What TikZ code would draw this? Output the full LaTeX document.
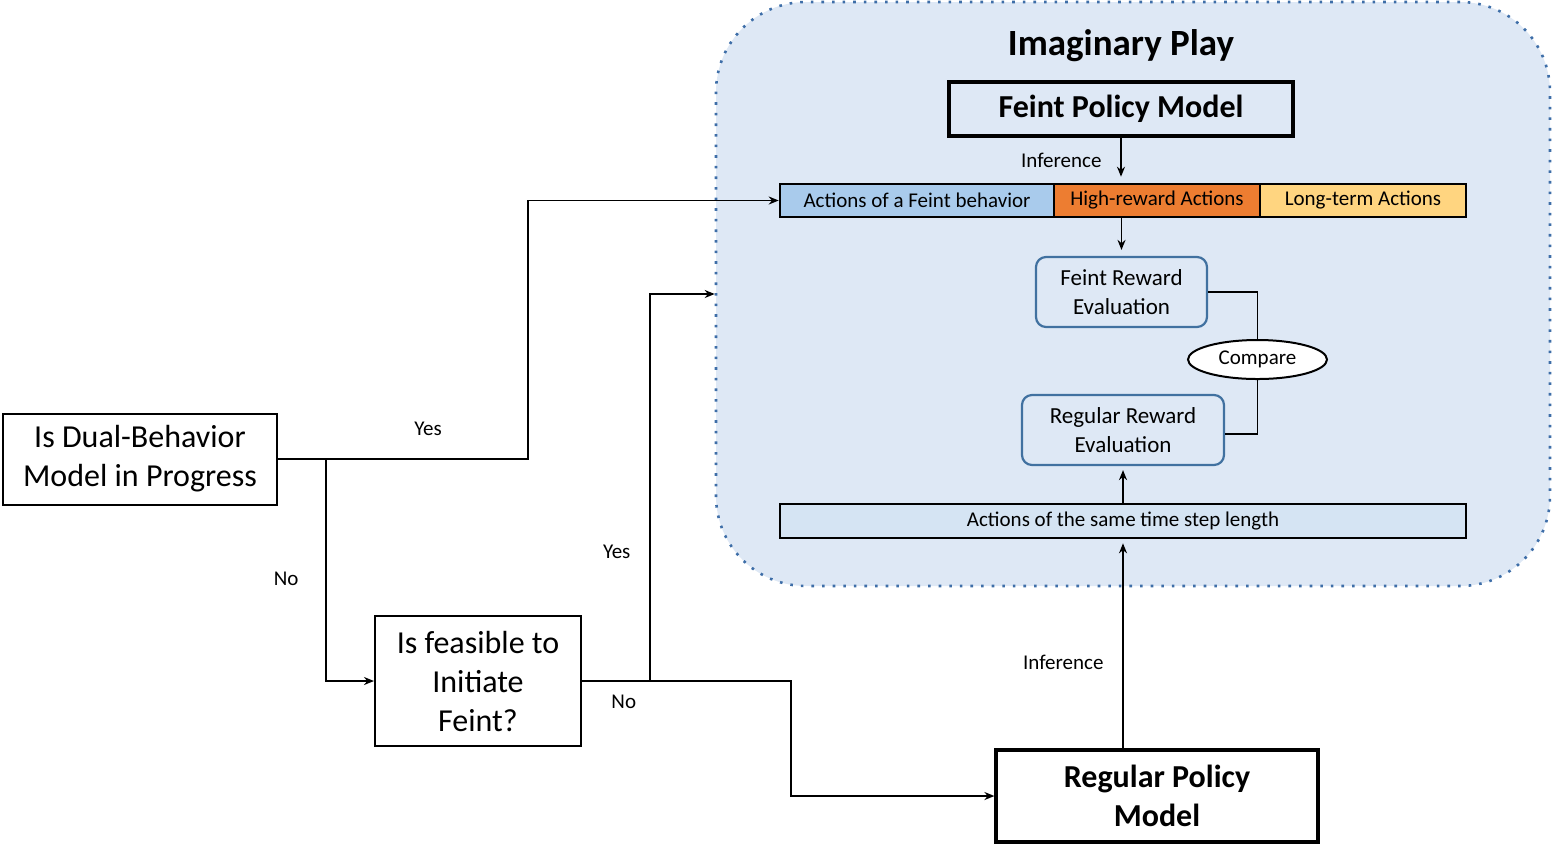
\documentclass[tikz,border=0pt]{standalone}
\usepackage{fontspec}
\setmainfont{Carlito}
\usetikzlibrary{arrows.meta, positioning, calc, shapes.geometric}
\definecolor{playbg}{RGB}{222,232,245}
\definecolor{playedge}{RGB}{62,110,168}
\definecolor{feintblue}{RGB}{169,203,236}
\definecolor{highorange}{RGB}{237,125,49}
\definecolor{longorange}{RGB}{255,213,128}
\definecolor{samebar}{RGB}{213,228,243}
\definecolor{rewedge}{RGB}{65,113,160}
\tikzset{
  decision/.style={draw, line width=1pt, align=center, inner sep=0pt, font=\fontsize{16}{19.5}\selectfont},
  policy/.style={draw, line width=1.6pt, align=center, inner sep=0pt, font=\fontsize{16}{19.5}\selectfont\bfseries},
  actions/.style={draw, line width=1.3pt, inner sep=0pt, minimum height=16.5pt, font=\fontsize{10.5}{12}\selectfont},
  reward/.style={draw=rewedge, line width=1.1pt, rounded corners=5pt, fill=playbg, align=center, inner sep=0pt, minimum height=35pt, font=\fontsize{11.5}{14.5}\selectfont},
  judge/.style={draw, ellipse, line width=1pt, fill=white, inner sep=0pt, minimum width=69.5pt, minimum height=19.5pt, font=\fontsize{10.5}{12}\selectfont},
  playbox/.style={draw=playedge, fill=playbg, line width=1.3pt, dash pattern=on 1.3pt off 4pt, rounded corners=45pt},
  arrow/.style={-{Stealth[length=5pt, width=4pt]}, line width=0.9pt},
  link/.style={line width=0.9pt},
  note/.style={font=\fontsize{10.5}{12}\selectfont}
}
\begin{document}
\begin{tikzpicture}[x=0.5pt, y=-0.5pt]
    \useasboundingbox (0,0) rectangle (1553,843);
    % imaginary play region
    \node[playbox, minimum width=417pt, minimum height=292pt] (play) at (1133,294) {};
    \node[font=\fontsize{18.5}{22}\selectfont\bfseries] (title) at (1121,46) {Imaginary Play};
    \node[policy, minimum width=172pt, minimum height=27pt] (feintpol) at (1121,109) {Feint Policy Model};
    \node[actions, fill=feintblue, minimum width=137pt] (act1) at (917,200.5) {Actions of a Feint behavior\hspace{9pt}};
    \node[actions, fill=highorange, minimum width=103pt] (act2) at (1157,200.5) {High-reward Actions};
    \node[actions, fill=longorange, minimum width=103pt] (act3) at (1363,200.5) {Long-term Actions\hspace{4pt}};
    \node[reward, minimum width=85.5pt] (feintrew) at (1121.5,292) {Feint Reward\\Evaluation};
    \node[judge] (compare) at (1257.5,359.5) {Compare};
    \node[reward, minimum width=101pt] (regrew) at (1123,430) {Regular Reward\\Evaluation};
    \node[actions, fill=samebar, minimum width=343pt, minimum height=17pt] (same) at (1123,521) {Actions of the same time step length};
    % decisions
    \node[decision, minimum width=137pt, minimum height=45.5pt] (dual) at (140,459) {Is Dual-Behavior\\Model in Progress};
    \node[decision, minimum width=103pt, minimum height=65pt] (feasible) at (478,681) {Is feasible to\\Initiate\\Feint?};
    \node[policy, minimum width=161pt, minimum height=46pt] (regpol) at (1157,796) {Regular Policy\\Model};
    \coordinate (split) at (326,459);
    \coordinate (entry) at (play.west |- 0,294);

    \draw[arrow, shorten >=3pt] (feintpol.south) -- node[left=6pt, note] {Inference} (feintpol.south |- act2.north);
    \draw[arrow, shorten >=3pt] (feintrew.north |- act2.south) -- (feintrew.north);
    \draw[link] (feintrew.east) -| (compare.north);
    \draw[link] (compare.south) |- ($(regrew.east)+(0,4)$);
    \draw[arrow, shorten >=2pt] (regrew.south |- same.north) -- (regrew.south);
    \draw[arrow, shorten >=2pt] (same.south |- regpol.north) -- node[pos=0.41, left=6pt, note] {Inference} (same.south);
    \draw[arrow] (dual.east) -- node[pos=0.6, above=8pt, note] {Yes} (528,459) |- (act1.west);
    \draw[arrow] (split) |- node[pos=0.27, left=10pt, note] {No} (feasible.west);
    \draw[arrow] (feasible.east) -- ++(68,0) |- node[pos=0.167, left=6pt, note] {Yes} (entry);
    \draw[arrow] (feasible.east) -- node[pos=0.2, below=3pt, note] {No} ++(209,0) |- (regpol.west);
\end{tikzpicture}
\end{document}
